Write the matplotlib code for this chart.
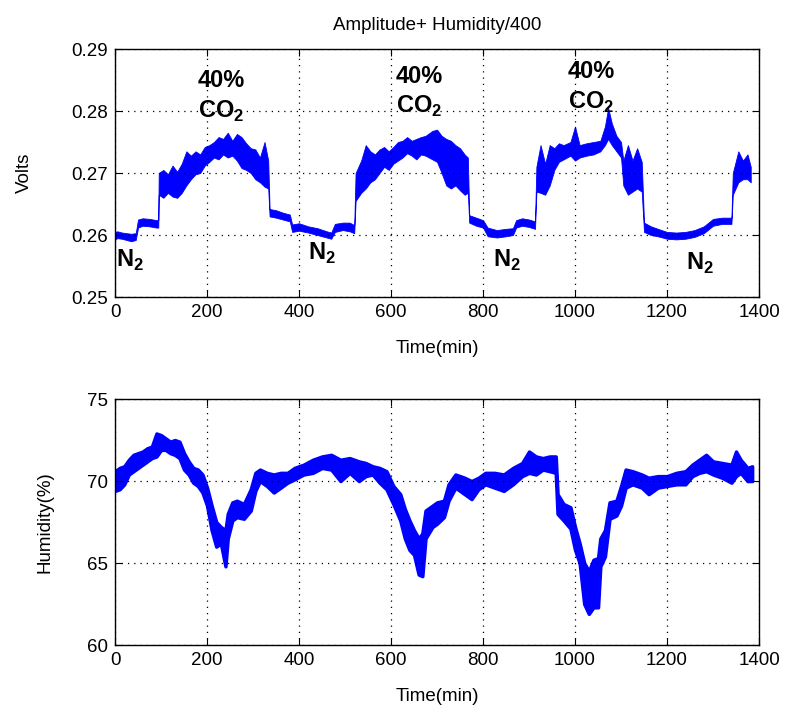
import matplotlib
matplotlib.use("Agg")
import matplotlib.pyplot as plt

plt.rcParams["font.family"] = ["Liberation Sans", "DejaVu Sans"]
plt.rcParams["mathtext.fontset"] = "custom"
plt.rcParams["mathtext.rm"] = "Liberation Sans:bold"
plt.rcParams["mathtext.bf"] = "Liberation Sans:bold"

# top panel: amplitude (V) as a noisy band, low / high edge at each time
volt_t = [0, 5, 15, 25, 35, 45, 50, 60, 75, 90, 94, 95, 105, 115, 125, 135, 145, 155, 165, 175,
          185, 195, 205, 215, 225, 235, 245, 255, 265, 275, 285, 295, 305, 315, 325, 333, 336, 350,
          365, 380, 385, 400, 420, 440, 460, 470, 478, 495, 510, 520, 523, 535, 545, 555, 565, 575,
          585, 595, 605, 615, 625, 635, 645, 655, 665, 675, 690, 700, 710, 720, 730, 740, 750, 760,
          767, 770, 785, 800, 810, 830, 850, 865, 872, 885, 900, 913, 916, 925, 935, 945, 955, 965,
          975, 990, 1000, 1010, 1025, 1040, 1055, 1065, 1072, 1080, 1090, 1100, 1105, 1115, 1125,
          1135, 1145, 1150, 1165, 1180, 1200, 1220, 1240, 1260, 1280, 1300, 1320, 1340, 1343, 1355,
          1365, 1375, 1382]
volt_lo = [.2593, .2595, .2594, .2592, .2590, .2592, .2612, .2615, .2614, .2612, .2612, .2665, .2660,
           .2668, .2662, .2660, .2668, .2680, .2690, .2698, .2700, .2712, .2718, .2725, .2722, .2730,
           .2725, .2728, .2720, .2708, .2705, .2700, .2690, .2685, .2678, .2675, .2630, .2628, .2625,
           .2622, .2605, .2607, .2604, .2600, .2596, .2594, .2605, .2608, .2606, .2603, .2655, .2668,
           .2675, .2685, .2690, .2700, .2710, .2705, .2715, .2720, .2725, .2732, .2728, .2722, .2730,
           .2728, .2722, .2718, .2700, .2680, .2675, .2680, .2672, .2665, .2668, .2620, .2615, .2612,
           .2598, .2596, .2598, .2600, .2612, .2615, .2613, .2610, .2670, .2668, .2665, .2680, .2705,
           .2718, .2722, .2728, .2720, .2725, .2728, .2730, .2735, .2745, .2755, .2745, .2735, .2725,
           .2680, .2665, .2670, .2675, .2670, .2605, .2600, .2598, .2594, .2593, .2594, .2597, .2603,
           .2615, .2618, .2618, .2665, .2685, .2690, .2690, .2685]
volt_hi = [.2605, .2606, .2604, .2603, .2602, .2603, .2625, .2627, .2626, .2624, .2624, .2700, .2705,
           .2698, .2712, .2702, .2715, .2735, .2728, .2735, .2730, .2742, .2745, .2750, .2758, .2755,
           .2765, .2752, .2763, .2758, .2748, .2740, .2738, .2725, .2750, .2720, .2642, .2640, .2636,
           .2633, .2617, .2619, .2614, .2611, .2606, .2604, .2618, .2620, .2620, .2616, .2700, .2720,
           .2745, .2735, .2730, .2738, .2742, .2735, .2742, .2750, .2752, .2758, .2752, .2755, .2758,
           .2760, .2768, .2770, .2760, .2755, .2752, .2745, .2740, .2730, .2725, .2632, .2628, .2624,
           .2612, .2608, .2610, .2611, .2624, .2627, .2625, .2622, .2710, .2745, .2715, .2745, .2740,
           .2748, .2745, .2750, .2775, .2745, .2748, .2750, .2752, .2775, .2805, .2780, .2760, .2750,
           .2720, .2745, .2720, .2740, .2718, .2620, .2614, .2610, .2605, .2604, .2605, .2608, .2614,
           .2626, .2628, .2628, .2700, .2735, .2720, .2730, .2710]

# bottom panel: humidity (%) band
hum_t = [0, 10, 20, 30, 40, 50, 60, 70, 80, 90, 100, 110, 120, 130, 140, 150, 160, 170, 180, 190,
         200, 210, 220, 230, 240, 245, 255, 265, 280, 295, 305, 315, 330, 345, 360, 375, 390, 410,
         430, 450, 470, 490, 510, 530, 545, 560, 575, 590, 605, 620, 630, 640, 650, 660, 668, 675,
         690, 700, 715, 725, 740, 760, 775, 790, 805, 825, 845, 865, 885, 900, 915, 930, 945, 958,
         962, 975, 990, 1000, 1010, 1020, 1030, 1040, 1050, 1055, 1065, 1075, 1090, 1100, 1110,
         1125, 1145, 1160, 1180, 1200, 1220, 1240, 1255, 1270, 1285, 1300, 1320, 1340, 1350, 1360,
         1375, 1385]
hum_lo = [69.4, 69.5, 69.8, 70.4, 70.6, 70.8, 71.0, 71.2, 71.4, 71.5, 71.9, 71.9, 71.7, 71.6, 71.4,
          70.7, 70.4, 69.9, 69.7, 69.3, 68.5, 67.0, 66.0, 66.2, 64.8, 66.5, 67.6, 67.8, 67.7, 68.2,
          69.4, 70.0, 69.7, 69.3, 69.6, 69.9, 70.1, 70.4, 70.5, 70.8, 70.7, 70.0, 70.5, 70.0, 70.3,
          70.4, 69.9, 69.5, 68.6, 67.6, 66.5, 65.8, 65.5, 64.3, 64.2, 66.5, 67.2, 67.4, 67.8, 68.8,
          69.6, 69.2, 68.9, 69.5, 69.8, 69.6, 69.4, 69.8, 70.3, 70.5, 70.4, 70.7, 70.6, 70.5, 68.0,
          67.6, 67.1, 65.8, 65.0, 62.5, 61.9, 62.3, 62.3, 64.8, 65.4, 67.7, 67.9, 68.5, 69.6, 69.8,
          69.6, 69.2, 69.6, 69.7, 69.8, 69.8, 70.3, 70.5, 70.6, 70.4, 70.2, 69.9, 70.3, 70.5, 70.0,
          70.0]
hum_hi = [70.6, 70.8, 70.9, 71.3, 71.6, 71.7, 71.8, 72.0, 72.1, 72.9, 72.8, 72.6, 72.4, 72.5, 72.4,
          71.7, 71.2, 70.8, 70.7, 70.4, 69.6, 68.5, 67.5, 67.2, 67.0, 68.0, 68.7, 68.8, 68.6, 69.5,
          70.5, 70.7, 70.5, 70.4, 70.5, 70.5, 70.8, 71.0, 71.3, 71.5, 71.6, 71.3, 71.4, 71.2, 71.1,
          70.9, 70.8, 70.6, 69.7, 69.2, 68.3, 67.6, 67.0, 66.5, 66.8, 68.2, 68.5, 68.7, 68.8, 69.8,
          70.4, 70.2, 70.0, 70.2, 70.5, 70.5, 70.4, 70.8, 71.1, 71.8, 71.5, 71.4, 71.5, 71.5, 69.2,
          68.6, 68.4, 67.2, 66.2, 65.0, 64.5, 65.2, 65.3, 66.5, 67.0, 68.7, 68.8, 69.7, 70.7, 70.6,
          70.4, 70.2, 70.3, 70.3, 70.5, 70.6, 71.0, 71.3, 71.6, 71.2, 71.1, 71.0, 71.8, 71.3, 70.8,
          70.9]

# gas labels on the top panel: (time, volts) of each label's top-left corner
co2_labels = [(180, 0.2867), (610, 0.2875), (985, 0.2882)]
n2_labels = [(3, 0.2580), (420, 0.2590), (822, 0.2580), (1241, 0.2575)]

BLUE = "#0000ff"


def _style_axes(ax, ylim, yticks, yfmt):
    ax.set_xlim(0, 1400)
    ax.set_ylim(*ylim)
    ax.set_xticks(range(0, 1401, 200))
    ax.set_yticks(yticks)
    ax.set_yticklabels([yfmt.format(v) for v in yticks])
    ax.tick_params(direction="in", length=5, labelsize=13.5, top=True, right=True, pad=5)
    ax.grid(True, linestyle=(0, (1, 4)), color="black", linewidth=0.9)
    for sp in ax.spines.values():
        sp.set_linewidth(1.0)
    ax.set_xlabel("Time(min)", fontsize=13.5, labelpad=14)


fig = plt.figure(figsize=(7.89, 7.22), dpi=100)
ax1 = fig.add_axes([0.1458, 0.5886, 0.8162, 0.3435])
ax2 = fig.add_axes([0.1458, 0.1066, 0.8162, 0.3407])

ax1.fill_between(volt_t, volt_lo, volt_hi, color=BLUE, linewidth=0.6, edgecolor=BLUE)
_style_axes(ax1, (0.25, 0.29), [0.25, 0.26, 0.27, 0.28, 0.29], "{:.2f}")
ax1.set_ylabel("Volts", fontsize=13.5, labelpad=28)
ax1.set_title("Amplitude+ Humidity/400", fontsize=13.5, pad=14)

for t, v in co2_labels:
    ax1.text(t, v, "40%\nCO$_2$", fontsize=17, fontweight="bold", ha="left", va="top",
             linespacing=1.35)
for t, v in n2_labels:
    ax1.text(t, v, "N$_2$", fontsize=17, fontweight="bold", ha="left", va="top")

ax2.fill_between(hum_t, hum_lo, hum_hi, color=BLUE, linewidth=2.5, edgecolor=BLUE)
_style_axes(ax2, (60, 75), [60, 65, 70, 75], "{:d}")
ax2.set_ylabel("Humidity(%)", fontsize=13.5, labelpad=24)

fig.savefig("out.png", dpi=100)
